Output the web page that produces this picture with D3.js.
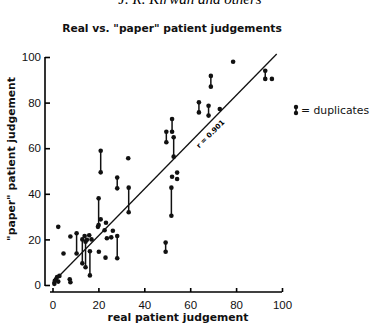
<!DOCTYPE html>
<html>
<head>
<meta charset="UTF-8">
<title>Real vs. paper patient judgements</title>
<style>
  body { margin: 0; background: #fff; }
  svg { font-family: "DejaVu Sans", sans-serif; }
  .axis path, .axis line { stroke: #000; stroke-width: 1.6px; fill: none; }
  .axis text { font-size: 11.5px; fill: #111; font-family: "Liberation Sans", Arial, sans-serif; }
  .lbl { font-weight: bold; font-size: 10.8px; fill: #111; font-family: "DejaVu Sans", sans-serif; }
</style>
</head>
<body>
<svg id="chart" width="374" height="327"></svg>
<script src="https://cdn.jsdelivr.net/npm/d3@7"></script>
<script>
  "use strict";

  // single judgements
  var singleReal  = [2.5, 4.8, 7.8, 0.8, 1.5, 2.5, 3.0, 2.0, 1.0, 7.5, 7.8, 14, 16, 15, 17, 19.8, 20.2, 21, 23.3, 22.7, 23.7, 26.3, 25.6, 23.1, 33, 52.1, 54.3, 54.3, 72.9, 78.7, 95.6];
  var singlePaper = [25.5, 13.8, 21.3, 0.5, 2.5, 1.5, 4.0, 3.5, 1.8, 2.5, 1.2, 21.5, 21.8, 19.8, 20, 25.5, 14.6, 28.8, 27.3, 24, 20.5, 23.8, 20.9, 12, 55.6, 47.5, 49.3, 46.5, 77.2, 97.9, 90.4];

  // duplicates: same real value, two "paper" values
  var dupReal   = [10.5, 13, 14.4, 16.3, 20.1, 21, 28.2, 33.2, 28.2, 49.3, 51.8, 52.1, 49.6, 52.8, 63.8, 68, 69, 92.7];
  var dupPaper1 = [22.7, 20, 19, 14.8, 38, 58.9, 47.1, 42.7, 21.5, 18.6, 42.7, 72.8, 67.2, 64.8, 80.1, 78.6, 91.7, 94];
  var dupPaper2 = [13.8, 9.5, 7.8, 4.2, 26.3, 49.4, 42.4, 31.9, 11.7, 14.6, 30.4, 67.2, 62.6, 56.3, 75.7, 74.3, 87, 90.4];

  var fitReal  = [0, 97.7];
  var fitPaper = [1, 101.3];
  var ticks = [0, 20, 40, 60, 80, 100];

  var svg = d3.select("#chart");

  var x = d3.scaleLinear().domain([0, 100]).range([52.5, 282]);
  var y = d3.scaleLinear().domain([0, 100]).range([285, 57]);

  // running header, cut at the top as in the scan
  svg.append("text")
    .attr("x", 190).attr("y", 4)
    .attr("text-anchor", "middle")
    .style("font-family", "'Liberation Serif', serif")
    .style("font-style", "italic")
    .style("font-size", "15px")
    .text("J. R. Kirwan and others");

  svg.append("text")
    .attr("class", "lbl")
    .attr("x", 172).attr("y", 31.5)
    .attr("text-anchor", "middle")
    .style("font-size", "10.7px")
    .text("Real vs. \"paper\" patient judgements");

  // axes
  svg.append("g")
    .attr("class", "axis")
    .attr("transform", "translate(45,0)")
    .call(d3.axisLeft(y).tickValues(ticks).tickSizeInner(-5).tickSizeOuter(0).tickPadding(4))
    .select(".domain").attr("d", "M0,57V286");

  svg.append("g")
    .attr("class", "axis")
    .attr("transform", "translate(0,292)")
    .call(d3.axisBottom(x).tickValues(ticks).tickSizeInner(-4).tickSizeOuter(0).tickPadding(9))
    .select(".domain").attr("d", "M50,0H282");

  svg.append("text")
    .attr("class", "lbl")
    .attr("transform", "translate(15,159) rotate(-90)")
    .attr("text-anchor", "middle")
    .text("\"paper\" patient judgement");

  svg.append("text")
    .attr("class", "lbl")
    .attr("x", 178).attr("y", 321)
    .attr("text-anchor", "middle")
    .text("real patient judgement");

  // regression line
  svg.append("line")
    .attr("x1", x(fitReal[0])).attr("y1", y(fitPaper[0]))
    .attr("x2", x(fitReal[1])).attr("y2", y(fitPaper[1]))
    .attr("stroke", "#111").attr("stroke-width", 1.3);

  svg.append("text")
    .attr("transform", "translate(" + x(69.5) + "," + y(65.5) + ") rotate(-45)")
    .attr("text-anchor", "middle")
    .style("font-size", "7px").style("font-weight", "bold")
    .text("r = 0.901");

  // duplicate pairs
  var pairs = d3.range(dupReal.length);
  svg.append("g").selectAll("line")
    .data(pairs).enter().append("line")
    .attr("x1", function(i){ return x(dupReal[i]); })
    .attr("x2", function(i){ return x(dupReal[i]); })
    .attr("y1", function(i){ return y(dupPaper1[i]); })
    .attr("y2", function(i){ return y(dupPaper2[i]); })
    .attr("stroke", "#111").attr("stroke-width", 1.5);

  var dots = [];
  pairs.forEach(function(i){
    dots.push([dupReal[i], dupPaper1[i]]);
    dots.push([dupReal[i], dupPaper2[i]]);
  });
  singleReal.forEach(function(d, i){ dots.push([d, singlePaper[i]]); });

  svg.append("g").selectAll("circle")
    .data(dots).enter().append("circle")
    .attr("cx", function(d){ return x(d[0]); })
    .attr("cy", function(d){ return y(d[1]); })
    .attr("r", 2.3)
    .attr("fill", "#111");

  // legend
  var lg = svg.append("g");
  lg.append("line").attr("x1", 296).attr("x2", 296).attr("y1", 107).attr("y2", 113)
    .attr("stroke", "#111").attr("stroke-width", 1.5);
  lg.selectAll("circle").data([107, 113]).enter().append("circle")
    .attr("cx", 296).attr("cy", function(d){ return d; }).attr("r", 2.2).attr("fill", "#111");
  lg.append("text").attr("x", 301).attr("y", 114)
    .style("font-size", "10.8px").attr("fill", "#111")
    .text("= duplicates");
</script>
</body>
</html>
